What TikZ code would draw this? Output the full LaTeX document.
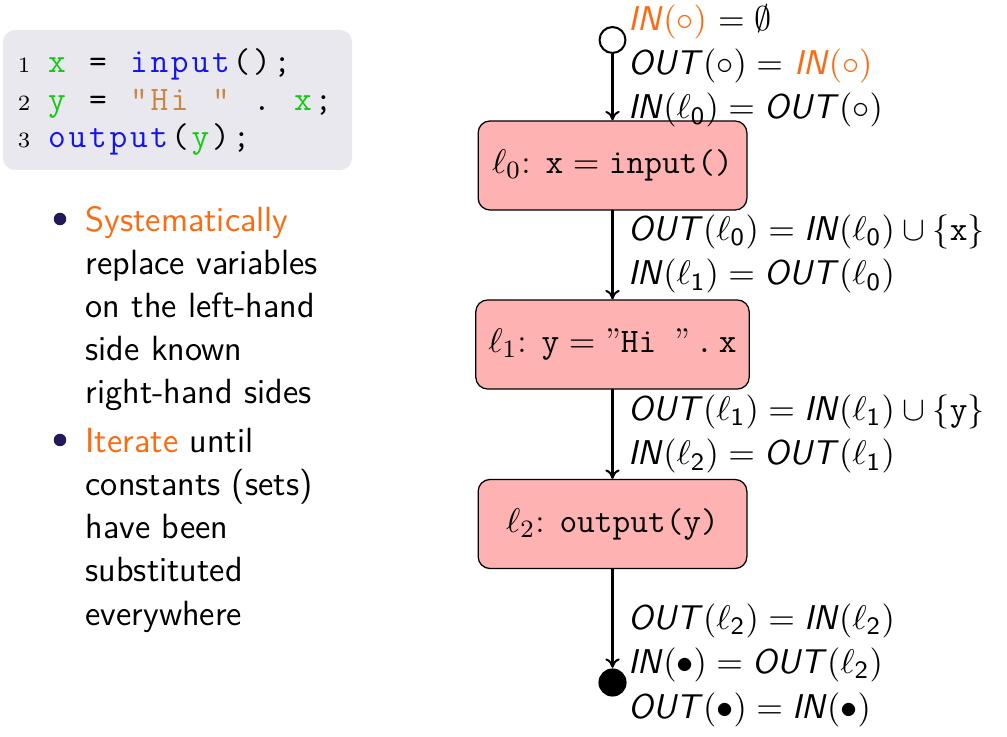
\documentclass[tikz,border=0pt]{standalone}
\usepackage{amsmath,amssymb}
\usetikzlibrary{positioning,arrows.meta}

\definecolor{hlorange}{RGB}{255,106,16}
\definecolor{itemnavy}{RGB}{34,26,88}
\definecolor{codebg}{RGB}{233,232,239}
\definecolor{idgreen}{RGB}{20,200,20}
\definecolor{kwblue}{RGB}{20,20,240}
\definecolor{strbrown}{RGB}{200,135,70}
\definecolor{stmtred}{RGB}{255,178,178}

% fixed columns for the listing
\newcommand{\colw}{6.56pt}
\def\spread#1{\spreadloop#1\relax}
\def\spreadloop#1{\ifx#1\relax\else\makebox[\colw]{#1}\expandafter\spreadloop\fi}

\newcommand{\IN}{\textsf{\textit{IN}}}
\newcommand{\OUT}{\textsf{\textit{OUT}}}
\newcommand{\lab}[1]{\ell_{\mathsf{#1}}}

\tikzset{
	stmt/.style={draw, thin, fill=stmtred, rounded corners=3.8pt, minimum width=86pt, minimum height=28.5pt, inner xsep=4pt, font=\fontsize{11}{13}\selectfont},
	flow/.style={-{To[length=3pt,width=4.6pt]}, line width=0.65pt},
	flowlbl/.style={anchor=base west, align=left, inner sep=0pt, font=\fontsize{11}{14.2}\selectfont},
	itemtxt/.style={anchor=base west, align=left, inner sep=0pt, font=\fontsize{11.2}{13.8}\selectfont\sffamily},
	codeln/.style={anchor=base west, inner sep=0pt, font=\fontsize{11}{12}\selectfont\ttfamily},
	lineno/.style={anchor=base east, inner sep=0pt, font=\fontsize{7}{8}\selectfont},
}

\begin{document}
\begin{tikzpicture}[x=0.32pt, y=-0.32pt, line join=round, line cap=round]
	\useasboundingbox (0,0) rectangle (1007,737);

	% listing
	\fill[codebg, rounded corners=3.8pt] (3,30) rectangle (352,170);
	\node[lineno] (n1) at (31,73) {1};
	\node[lineno] (n2) at (31,110.5) {2};
	\node[lineno] (n3) at (31,148) {3};
	\node[codeln] (c1) at (46,73) {\textcolor{idgreen}{\spread{x}}\spread{~=~}\textcolor{kwblue}{\spread{input}}\spread{();}};
	\node[codeln] (c2) at (46,110.5) {\textcolor{idgreen}{\spread{y}}\spread{~=~}\textcolor{strbrown}{\spread{"Hi~"}}\spread{~.~}\textcolor{idgreen}{\spread{x}}\spread{;}};
	\node[codeln] (c3) at (46,148) {\textcolor{kwblue}{\spread{output}}\spread{(}\textcolor{idgreen}{\spread{y}}\spread{);}};

	% bullets (base of a node = its last line)
	\fill[itemnavy] (60,219) circle (2pt);
	\fill[itemnavy] (60,440) circle (2pt);
	\node[itemtxt] (it1) at (85,404) {\textcolor{hlorange}{Systematically}\\replace variables\\on the left-hand\\side known\\right-hand sides};
	\node[itemtxt] (it2) at (85,625) {\textcolor{hlorange}{Iterate} until\\constants (sets)\\have been\\substituted\\everywhere};

	% flow graph
	\node[draw, line width=0.65pt, circle, inner sep=0pt, minimum size=8.3pt] (start) at (612.5,40) {};
	\node[stmt] (l0) at (612.5,165.5) {$\ell_0$: $\texttt{x} = \texttt{input()}$};
	\node[stmt] (l1) at (612.5,344.5) {$\ell_1$: $\texttt{y} = \text{\textquotedblright}\texttt{Hi~}\text{\textquotedblright}\,\texttt{.}\,\texttt{x}$};
	\node[stmt] (l2) at (612.5,524) {$\ell_2$: $\texttt{output(y)}$};
	\node[fill, circle, inner sep=0pt, minimum size=9pt] (end) at (612.5,682.5) {};

	\draw[flow] (start) -- (l0);
	\draw[flow] (l0) -- (l1);
	\draw[flow] (l1) -- (l2);
	\draw[flow] (l2) -- (end);

	\node[flowlbl] (lbs) at (628,119) {\textcolor{hlorange}{$\IN(\circ)$} $= \emptyset$\\
		$\OUT(\circ) =$ \textcolor{hlorange}{$\IN(\circ)$}\\
		$\IN(\lab{0}) = \OUT(\circ)$};
	\node[flowlbl] (lb0) at (628,285) {$\OUT(\lab{0}) = \IN(\lab{0}) \cup \{\texttt{x}\}$\\
		$\IN(\lab{1}) = \OUT(\lab{0})$};
	\node[flowlbl] (lb1) at (628,465) {$\OUT(\lab{1}) = \IN(\lab{1}) \cup \{\texttt{y}\}$\\
		$\IN(\lab{2}) = \OUT(\lab{1})$};
	\node[flowlbl] (lb2) at (628,718) {$\OUT(\lab{2}) = \IN(\lab{2})$\\
		$\IN(\bullet) = \OUT(\lab{2})$\\
		$\OUT(\bullet) = \IN(\bullet)$};
\end{tikzpicture}
\end{document}
